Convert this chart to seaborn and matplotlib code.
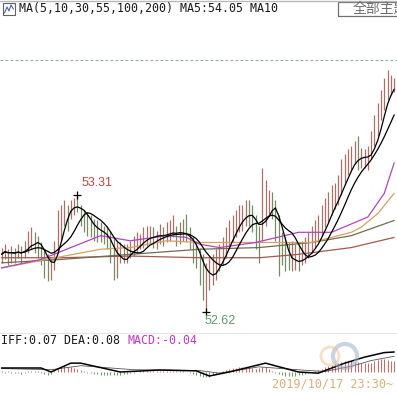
import numpy as np
import pandas as pd
import seaborn as sns
import matplotlib.pyplot as plt
from matplotlib.patches import Rectangle, Circle

# ---- price bars ----
high = [53.00, 53.02, 52.99, 53.01, 53.00, 53.02, 53.01, 53.04, 53.10, 53.12,
        53.09, 53.07, 53.03, 52.99, 52.96, 52.94, 53.04, 53.22, 53.25, 53.28,
        53.25, 53.28, 53.29, 53.31, 53.25, 53.22, 53.21, 53.19, 53.17, 53.16,
        53.15, 53.13, 53.13, 53.10, 53.06, 53.04, 53.03, 53.02, 53.02, 53.04,
        53.07, 53.09, 53.08, 53.12, 53.13, 53.13, 53.12, 53.10, 53.14, 53.12,
        53.15, 53.16, 53.19, 53.13, 53.15, 53.17, 53.20, 53.12, 53.07, 53.04,
        53.00, 52.96, 52.91, 52.94, 52.96, 52.99, 53.02, 53.06, 53.12, 53.16,
        53.19, 53.22, 53.25, 53.25, 53.28, 53.28, 53.25, 53.19, 53.13, 53.47,
        53.40, 53.34, 53.33, 53.28, 53.19, 53.09, 53.06, 53.03, 53.04, 53.02,
        53.02, 53.04, 53.06, 53.09, 53.13, 53.16, 53.19, 53.25, 53.29, 53.33,
        53.37, 53.38, 53.43, 53.52, 53.55, 53.58, 53.60, 53.63, 53.66, 53.59,
        53.58, 53.60, 53.69, 53.78, 53.85, 53.93, 54.00, 54.05, 54.02, 54.00]
low = [52.91, 52.93, 52.90, 52.91, 52.91, 52.94, 52.91, 52.94, 52.97, 52.99,
       52.97, 52.94, 52.90, 52.82, 52.80, 52.81, 52.87, 52.97, 53.04, 53.13,
       53.10, 53.17, 53.19, 53.21, 53.13, 53.09, 53.07, 53.06, 53.04, 53.03,
       53.03, 53.02, 52.99, 52.91, 52.81, 52.82, 52.91, 52.91, 52.91, 52.94,
       52.95, 52.97, 52.99, 53.00, 53.01, 53.02, 53.00, 52.99, 53.02, 53.01,
       53.03, 53.04, 53.06, 53.01, 53.02, 53.04, 53.03, 52.99, 52.91, 52.88,
       52.78, 52.69, 52.62, 52.75, 52.78, 52.81, 52.86, 52.90, 52.94, 52.99,
       53.03, 53.06, 53.09, 53.10, 53.13, 53.13, 53.09, 52.99, 52.91, 53.04,
       53.13, 53.19, 53.17, 53.04, 52.83, 52.90, 52.86, 52.87, 52.86, 52.87,
       52.86, 52.90, 52.91, 52.94, 52.97, 53.00, 53.03, 53.07, 53.12, 53.15,
       53.19, 53.23, 53.25, 53.31, 53.37, 53.43, 53.46, 53.49, 53.46, 53.47,
       53.47, 53.46, 53.52, 53.60, 53.66, 53.75, 53.81, 53.87, 53.90, 53.92]
close = [52.96, 52.99, 52.96, 52.97, 52.96, 52.99, 52.96, 53.00, 53.04, 53.06,
         53.03, 53.02, 52.94, 52.88, 52.86, 52.88, 53.00, 53.16, 53.22, 53.23,
         53.21, 53.25, 53.26, 53.25, 53.19, 53.15, 53.13, 53.12, 53.10, 53.09,
         53.08, 53.07, 53.04, 52.97, 52.88, 52.90, 52.96, 52.95, 52.96, 52.99,
         53.01, 53.03, 53.04, 53.06, 53.07, 53.07, 53.06, 53.07, 53.08, 53.07,
         53.09, 53.09, 53.10, 53.07, 53.09, 53.08, 53.07, 53.03, 52.97, 52.94,
         52.87, 52.80, 52.81, 52.84, 52.87, 52.91, 52.95, 52.99, 53.03, 53.09,
         53.13, 53.15, 53.19, 53.19, 53.21, 53.20, 53.16, 53.07, 53.04, 53.22,
         53.28, 53.29, 53.25, 53.13, 52.99, 52.96, 52.93, 52.91, 52.91, 52.93,
         52.91, 52.95, 52.96, 52.99, 53.02, 53.04, 53.09, 53.15, 53.19, 53.23,
         53.28, 53.31, 53.35, 53.41, 53.46, 53.50, 53.53, 53.54, 53.53, 53.53,
         53.53, 53.54, 53.60, 53.71, 53.78, 53.86, 53.92, 53.96, 53.96, 53.97]

# bars carrying the high / low price tags
tag_high_bar = 23
tag_low_bar = 62

# longer moving averages, read at a few bars
ma30_bar = [0, 12, 21, 30, 39, 50, 56, 60, 66, 77, 90, 100, 111, 116, 119]
ma30_val = [52.88, 52.93, 53.00, 53.07, 53.04, 53.07, 53.06, 53.02, 53.00,
            53.03, 53.09, 53.09, 53.18, 53.32, 53.50]
ma55_bar = [0, 30, 39, 50, 60, 72, 80, 94, 100, 106, 109, 114, 119]
ma55_val = [52.88, 52.99, 53.00, 53.04, 53.03, 53.03, 53.03, 53.03, 53.06,
            53.09, 53.12, 53.20, 53.32]
ma100_bar = [0, 18, 39, 60, 78, 94, 106, 119]
ma100_val = [52.91, 52.93, 52.96, 52.99, 53.00, 53.03, 53.07, 53.16]
ma200_bar = [0, 18, 39, 60, 78, 90, 106, 119]
ma200_val = [52.94, 52.94, 52.95, 52.94, 52.94, 52.96, 53.00, 53.06]

# MACD panel
macd_hist = [0.003, -0.002, 0.002, -0.003, -0.004, -0.005, -0.006, -0.004, 0.002, 0.004, 0.003, 0.002,
             -0.004, -0.008, -0.010, -0.006,
             0.004, 0.012, 0.018, 0.020, 0.019, 0.016, 0.014, 0.012, 0.008,
             0.003, -0.002, -0.005, -0.007, -0.008, -0.009, -0.010, -0.010, -0.011, -0.012, -0.011,
             -0.009, -0.008, -0.006,
             -0.004, -0.002, 0.001, 0.002, 0.003, 0.004, 0.004, 0.003, 0.004, 0.005, 0.004, 0.004,
             0.005, 0.004, 0.003, 0.003, 0.002, 0.001, -0.002,
             -0.006, -0.010, -0.014, -0.017, -0.018, -0.016, -0.012, -0.008, -0.004, 0.002,
             0.006, 0.010, 0.013, 0.015, 0.016, 0.017, 0.018, 0.016, 0.013, 0.012, 0.015, 0.018, 0.016,
             0.010, 0.004, -0.002, -0.008, -0.011, -0.013, -0.014, -0.014, -0.013, -0.011, -0.009,
             -0.006, -0.003, 0.001,
             0.004, 0.008, 0.012, 0.016, 0.020, 0.024, 0.027, 0.030, 0.034, 0.037, 0.038, 0.038,
             0.036, 0.034, 0.032, 0.030, 0.030, 0.033, 0.037, 0.041, 0.044, 0.045, 0.042, 0.040, 0.038]
dif_bar = [0, 12, 15, 21, 24, 36, 48, 59, 63, 69, 80, 90, 96, 104, 110, 116, 119]
dif_val = [0.014, 0.014, 0.000, 0.031, 0.031, 0.000, 0.007, 0.004, -0.014, 0.000,
           0.031, 0.000, -0.004, 0.031, 0.052, 0.068, 0.070]
dea_bar = [0, 15, 24, 40, 60, 66, 78, 92, 98, 106, 112, 119]
dea_val = [0.012, 0.008, 0.022, 0.008, 0.005, -0.004, 0.018, 0.006, 0.002, 0.020, 0.040, 0.055]

W, H = 397, 397


def fy(y):
    return 1 - y / H


df = pd.DataFrame({"high": high, "low": low, "close": close})
df["bar"] = np.arange(len(df))
df["open"] = df["close"].shift(1).fillna(df["close"])
df["ma5"] = df["close"].rolling(5, min_periods=1).mean()
df["ma10"] = df["close"].rolling(10, min_periods=1).mean()

sns.set_style("white")
plt.rcParams['font.family'] = ['DejaVu Sans', 'Noto Sans CJK SC']

fig = plt.figure(figsize=(W / 100, H / 100), dpi=100)
fig.patch.set_facecolor("white")

# price panel: pixel rows 20..332
px = 0.005897
top_p = 53.31 + (195 - 20) * px
bot_p = 53.31 - (332 - 195) * px
ax = fig.add_axes([0, fy(332), 1, (332 - 20) / H])
ax.set_xlim(-1.5 / 3.3, (W - 1.5) / 3.3)
ax.set_ylim(bot_p, top_p)

up = df["close"] >= df["open"]
ax.vlines(df["bar"][up], df["low"][up], df["high"][up], color="#a8706a", lw=0.9)
ax.vlines(df["bar"][~up], df["low"][~up], df["high"][~up], color="#778a66", lw=0.9)

sns.lineplot(x=ma200_bar, y=ma200_val, ax=ax, color="#a4584e", lw=0.9)
sns.lineplot(x=ma100_bar, y=ma100_val, ax=ax, color="#6e6e52", lw=0.9)
sns.lineplot(x=ma55_bar, y=ma55_val, ax=ax, color="#d9a060", lw=0.9)
sns.lineplot(x=ma30_bar, y=ma30_val, ax=ax, color="#b046b8", lw=0.9)
sns.lineplot(data=df, x="bar", y="ma10", ax=ax, color="black", lw=0.9)
sns.lineplot(data=df, x="bar", y="ma5", ax=ax, color="black", lw=0.9)
ax.axis("off")

# dashed top line
ax.axhline(53.31 + (195 - 60) * px, color="#8fa8b8", lw=0.8, ls=(0, (2.5, 2)))

# high / low tags
hv = high[tag_high_bar]
lv = low[tag_low_bar]
ax.plot(tag_high_bar, hv, marker="+", color="black", ms=6, mew=0.9)
ax.plot(tag_low_bar, lv, marker="+", color="black", ms=6, mew=0.9)
ax.annotate(f"{hv:.2f}", (tag_high_bar, hv), xytext=(3, 4),
            textcoords="offset points", color="#c0463e", fontsize=9,
            family="Liberation Sans", va="bottom", ha="left")
ax.annotate(f"{lv:.2f}", (tag_low_bar, lv), xytext=(-1, -2),
            textcoords="offset points", color="#5f9a6c", fontsize=9,
            family="Liberation Sans", va="top", ha="left")

# MACD panel: pixel rows 333..397
m_scale = 0.0035
ax2 = fig.add_axes([0, 0, 1, (H - 333) / H])
ax2.set_xlim(-1.5 / 3.3, (W - 1.5) / 3.3)
ax2.set_ylim(-(H - 372) * m_scale, (372 - 333) * m_scale)
hist = np.array(macd_hist)
bars = np.arange(len(hist))
ax2.vlines(bars[hist >= 0], 0, hist[hist >= 0], color="#c07070", lw=0.8)
ax2.vlines(bars[hist < 0], 0, hist[hist < 0], color="#6e9a6e", lw=0.8)
sns.lineplot(x=dea_bar, y=dea_val, ax=ax2, color="#555555", lw=0.6)
sns.lineplot(x=dif_bar, y=dif_val, ax=ax2, color="black", lw=1.1)
ax2.axis("off")

# watermark rings
ring = Circle((345 / W, fy(356)), 12 / W, transform=fig.transFigure,
              fill=False, ec="#9fb0c8", lw=3, alpha=0.55)
fig.patches.append(ring)
ring2 = Circle((330 / W, fy(356)), 9 / W, transform=fig.transFigure,
               fill=False, ec="#f0c090", lw=2, alpha=0.5)
fig.patches.append(ring2)

# separator lines
fig.add_artist(plt.Line2D([0, 1], [fy(0.5), fy(0.5)], color="#b8b8b8", lw=1))
fig.add_artist(plt.Line2D([0, 1], [fy(333), fy(333)], color="#e4e4e4", lw=0.8))

# header
fig.patches.append(Rectangle((3 / W, fy(15)), 12 / W, 12 / H, transform=fig.transFigure,
                             fill=False, ec="#606060", lw=0.8))
fig.add_artist(plt.Line2D([4.5 / W, 7 / W, 9 / W, 11 / W, 13.5 / W],
                          [fy(13), fy(7), fy(11), fy(5), fy(9)], color="#5060a0", lw=0.8))
fig.text(19 / W, fy(9), "MA(5,10,30,55,100,200) MA5:54.05 MA10", fontsize=8.4,
         family="DejaVu Sans Mono", color="#1a1a1a", va="center", ha="left")
fig.patches.append(Rectangle((338 / W, fy(16)), 62 / W, 14 / H, transform=fig.transFigure,
                             fill=False, ec="#707070", lw=0.9))
fig.text(353 / W, fy(9), "全部主题", fontsize=10, family="Noto Sans CJK SC",
         color="#707070", va="center", ha="left")

# MACD header
fig.text(1 / W, fy(341), "IFF:0.07 DEA:0.08 ", fontsize=8.4, family="DejaVu Sans Mono",
         color="#1a1a1a", va="center", ha="left")
fig.text(127 / W, fy(341), "MACD:-0.04", fontsize=8.4, family="DejaVu Sans Mono",
         color="#c03cc0", va="center", ha="left")
fig.text(272 / W, fy(384), "2019/10/17 23:30~", fontsize=8.6, family="DejaVu Sans Mono",
         color="#d8b07a", va="center", ha="left")

fig.savefig("out.png", dpi=100)
